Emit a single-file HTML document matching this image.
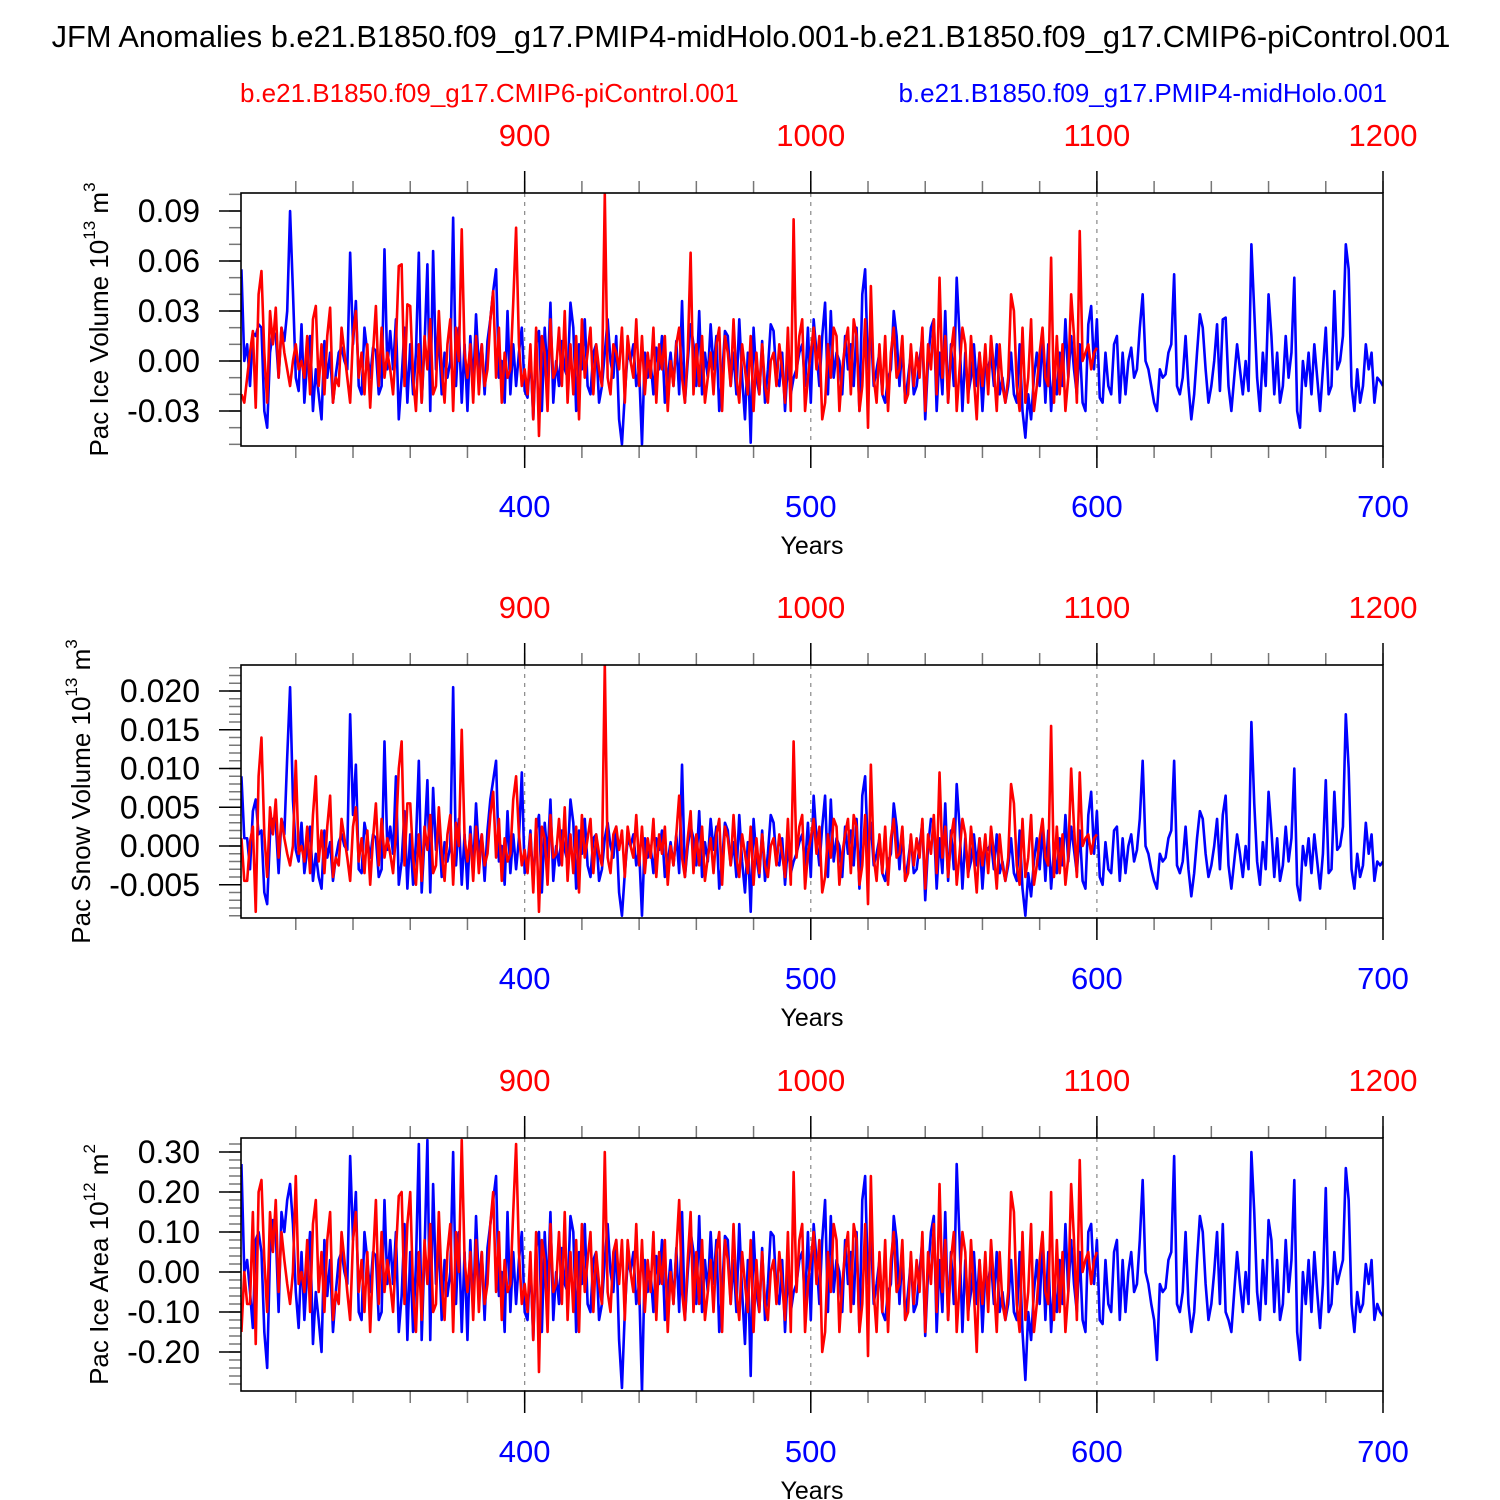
<!DOCTYPE html>
<html><head><meta charset="utf-8"><style>
html,body{margin:0;padding:0;background:#fff;}
svg{display:block;font-family:"Liberation Sans",Arial,sans-serif;}
</style></head><body>
<svg id="chart" width="1500" height="1500" viewBox="0 0 1500 1500">
<text x="751" y="47" text-anchor="middle" font-size="30.8">JFM Anomalies b.e21.B1850.f09_g17.PMIP4-midHolo.001-b.e21.B1850.f09_g17.CMIP6-piControl.001</text>
<text x="240" y="102" font-size="26" fill="#ff0000">b.e21.B1850.f09_g17.CMIP6-piControl.001</text>
<text x="1387" y="102" font-size="26" fill="#0000ff" text-anchor="end">b.e21.B1850.f09_g17.PMIP4-midHolo.001</text>
</svg>
<script>
// Blue: years 301..700 ; Red: years 801..1100 (plotted on blue axis at year-500)
const blueYears0 = 301;
const redYears0 = 801;
const redOffset = 500;
const bottomTicks = [400,500,600,700];
const topTicks = [900,1000,1100,1200];
const unit1 = 0.001, unit2 = 0.0001, unit3 = 0.01;
const yTicks1 = [0.09,0.06,0.03,0.00,-0.03];
const yLabels1 = ["0.09","0.06","0.03","0.00","-0.03"];
const yTicks2 = [0.020,0.015,0.010,0.005,0.000,-0.005];
const yLabels2 = ["0.020","0.015","0.010","0.005","0.000","-0.005"];
const yTicks3 = [0.30,0.20,0.10,0.00,-0.10,-0.20];
const yLabels3 = ["0.30","0.20","0.10","0.00","-0.10","-0.20"];

const blue1 = [55,0,10,-15,17,15,22,20,-30,-40,5,18,15,-10,20,12,30,90,42,-10,
-18,22,-25,0,15,-30,-5,-20,-35,12,-10,5,-25,-8,5,8,0,-5,65,10,
36,-15,-20,20,5,-10,8,6,-20,-15,67,-5,18,-5,25,-35,-10,20,-25,10,
-20,5,65,-25,10,58,-30,66,-5,15,-20,5,-10,0,86,-15,20,-25,10,-30,
15,-15,28,-5,10,-20,12,25,42,55,-10,0,-25,30,-20,10,-15,5,20,-18,
-22,5,-35,10,18,-30,20,-10,35,-25,0,-15,12,-5,-10,35,20,-30,10,-5,
25,-15,-20,5,10,-25,-15,5,25,0,-10,15,-35,-50,-20,5,0,10,-15,-5,
-50,5,-10,0,-20,8,-5,15,-25,-10,5,-15,12,-20,36,-25,0,22,10,-15,
30,-20,5,-10,22,-5,15,-30,-10,18,15,-15,5,-20,25,-10,-35,5,-49,20,
-10,-20,12,-25,-5,22,18,-10,-15,5,-30,0,-20,-10,-5,5,10,-15,20,-25,
25,5,-15,15,35,-20,30,-10,5,0,-20,15,-5,10,-15,20,-30,40,55,-5,
20,-15,-5,5,-20,-25,-10,-5,30,15,-15,10,-25,-10,5,-20,-15,0,15,-35,
0,20,25,-30,5,-20,30,-25,10,-15,50,15,-30,5,-20,-10,10,-15,5,-30,
0,-5,5,-15,10,-20,-10,-25,-15,5,-20,-25,10,-30,-46,-20,-35,-10,5,-15,
15,-25,10,-30,-5,-20,5,-15,25,-10,15,-5,-20,10,-25,-30,22,33,-5,25,
-22,-25,5,-15,-20,10,15,-25,5,-20,0,8,-10,-5,20,40,0,-5,-15,-25,
-30,-5,-10,-8,5,10,52,-15,-20,-10,15,-15,-35,-20,5,28,20,-5,-25,-15,
0,22,-18,25,26,-15,-30,-10,10,-5,-20,0,-18,70,30,-10,-30,5,-15,40,
15,-20,5,-25,-15,15,-10,5,50,-30,-40,0,-15,5,-20,10,-10,-30,-5,20,
-20,-15,42,-5,0,15,70,55,-15,-30,-5,-25,-15,10,-5,5,-25,-10,-12,-15];

const red1 = [-20,-25,-10,5,18,-28,40,54,5,-25,30,10,32,-10,20,5,-5,-15,0,10,
-5,0,-10,15,-20,25,33,-15,10,-20,15,32,-25,-10,-15,20,5,-10,-25,15,
30,-10,5,-20,10,-28,5,33,-15,20,-10,5,-5,-20,10,57,58,-15,34,33,
-10,-30,10,-25,15,-5,25,-20,-15,30,-5,-25,10,25,-30,20,0,79,5,-10,
10,-25,15,-20,10,-15,-5,25,42,-10,20,-25,5,-10,-5,35,80,10,-15,-5,
-20,10,-35,20,-45,15,5,-30,25,-10,-5,20,-15,30,-25,10,-20,15,-35,25,
-10,5,20,-20,10,-5,-15,100,-10,-20,10,5,-5,20,-25,15,0,-10,25,-15,
15,-20,5,-10,20,-25,10,-5,15,-30,0,-15,10,20,-10,-25,5,65,-20,10,
-15,15,-25,-10,5,-20,10,20,-30,15,5,-15,25,-10,-25,10,-5,-20,15,-30,
5,-20,10,-15,-25,0,5,-15,10,-5,-25,20,-30,85,-10,15,25,-30,-10,5,
20,-5,15,-35,-25,10,-10,20,15,-30,-5,10,20,-20,25,15,-30,-15,25,-40,
45,-10,-25,10,-20,15,-30,5,20,-10,-5,15,-25,-20,10,-15,5,-10,20,-30,
10,-5,25,-20,50,-10,15,-25,5,20,-30,-5,20,10,-25,15,-10,-35,5,-15,
10,-20,15,-5,-30,10,-15,-25,-10,40,30,-15,-30,20,-25,-10,25,-30,-15,5,
20,-10,-15,62,-25,15,-20,10,-30,-10,40,15,-25,78,0,5,10,-5,5,8];

const blue2 = [90,10,10,-30,45,60,15,20,-60,-75,15,35,30,-35,35,15,115,205,60,-5,
-20,30,-35,-5,25,-45,-10,-40,-55,20,-15,5,-45,-15,5,15,0,-5,170,40,
105,-30,-35,30,10,-15,15,10,-40,-30,135,-5,25,-10,90,-50,-20,45,-55,15,
-50,5,110,-60,10,85,-60,75,-5,25,-40,5,-20,0,205,-25,35,-50,15,-55,
25,-30,55,-10,15,-45,20,60,85,110,-20,0,-50,45,-35,15,-30,10,95,-35,
-25,20,-50,20,40,-60,30,-15,60,-45,0,-25,20,-5,-20,60,30,-55,20,-10,
35,-25,-40,10,15,-45,-30,10,30,0,-15,25,-60,-90,-35,10,0,15,-25,-5,
-90,10,-15,0,-35,10,-5,20,-40,-20,5,-25,15,-35,105,-40,0,25,10,-25,
45,-40,5,-20,35,-5,25,-55,-20,30,20,-25,5,-40,40,-20,-60,5,-85,35,
-15,-40,20,-45,-10,40,30,-20,-25,10,-50,0,-35,-20,-10,5,15,-25,30,-40,
65,10,-25,25,65,-40,60,-20,10,0,-40,25,-10,20,-25,35,-55,65,90,-10,
30,-25,-10,10,-35,-45,-20,-10,55,25,-30,20,-45,-20,10,-35,-30,0,30,-70,
0,35,30,-55,10,-35,55,-45,20,-30,80,25,-55,10,-35,-20,15,-25,10,-55,
0,-5,5,-30,15,-35,-20,-45,-25,10,-35,-45,20,-55,-90,-35,-65,-20,10,-30,
25,-45,20,-55,-5,-35,10,-25,40,-20,25,-5,-35,20,-45,-55,40,70,-10,45,
-40,-50,5,-30,-35,20,25,-45,10,-35,0,15,-20,-5,35,110,0,-10,-30,-45,
-55,-10,-20,-15,10,20,110,-25,-35,-20,25,-30,-65,-35,10,45,35,-10,-40,-25,
0,35,-30,40,65,-25,-55,-20,15,-10,-40,0,-30,160,55,-20,-50,5,-30,70,
20,-40,10,-45,-25,25,-20,10,100,-50,-70,0,-25,10,-35,15,-20,-55,-10,85,
-35,-30,70,-5,0,25,170,100,-30,-55,-10,-40,-25,30,-10,15,-45,-20,-25,-20];

const red2 = [10,-45,-45,5,25,-85,90,140,15,-40,50,15,60,-15,35,10,-10,-25,0,110,
-10,0,-20,25,-35,40,90,-20,20,-35,25,65,-40,-15,-25,35,10,-15,-45,25,
50,-20,10,-35,20,-50,10,55,-25,35,-15,10,-10,-35,15,100,135,-25,55,55,
-15,-50,15,-45,25,-5,40,-35,-25,50,-10,-45,15,40,-50,30,0,150,10,-20,
15,-45,25,-35,15,-25,-10,40,70,-15,35,-45,10,-20,-10,60,90,15,-25,-5,
-35,15,-60,35,-85,25,10,-50,40,-15,-10,35,-25,50,-45,15,-35,25,-60,40,
-15,10,35,-35,15,-10,-25,235,-15,-35,15,25,-5,20,-40,25,0,-15,40,-25,
25,-35,10,-15,35,-40,15,-10,25,-50,0,-25,15,65,-15,-40,10,45,-35,15,
-25,25,-45,-15,10,-35,15,35,-50,25,10,-25,40,-15,-40,15,-10,-35,25,-50,
10,-35,15,-25,-40,0,10,-25,15,-10,-40,35,-50,135,-15,25,40,-55,-10,10,
35,-10,25,-60,-40,15,-15,35,25,-50,-10,15,35,-35,40,25,-50,-25,40,-75,
105,-15,-45,15,-35,25,-50,10,35,-15,-10,25,-45,-35,15,-25,10,-15,35,-55,
15,-10,40,-35,95,-15,25,-40,10,35,-50,-10,35,15,-40,25,-15,-60,10,-25,
15,-35,25,-10,-55,15,-25,-45,-15,80,55,-25,-50,35,-40,-15,40,-50,-25,10,
35,-15,-25,155,-40,25,-35,15,-50,-15,100,25,-40,95,0,10,15,-10,10,15];

const blue3 = [27,0,3,-5,-14,8,10,5,-15,-24,5,13,10,-10,15,10,18,22,12,-5,
-14,5,-12,0,10,-18,-5,-12,-20,8,-6,3,-15,-5,3,5,0,-3,29,8,
20,-10,-12,10,3,-5,5,4,-12,-10,18,-3,8,-3,10,-15,-6,12,-17,5,
-15,2,32,-17,5,33,-17,22,-3,8,-12,3,-6,0,30,-8,10,-15,5,-17,
8,-10,14,-3,5,-12,6,12,18,24,-6,0,-15,15,-10,5,-8,3,10,-10,
-12,3,-17,6,10,-15,10,-5,15,-12,0,-8,6,-3,-5,14,10,-15,5,-3,
12,-8,-10,3,5,-12,-8,3,12,0,-5,8,-17,-29,-10,3,0,5,-8,-3,
-30,3,-5,0,-10,4,-3,8,-12,-5,3,-8,6,-10,15,-12,0,10,5,-8,
14,-10,3,-5,10,-3,8,-15,-5,9,8,-8,3,-10,12,-5,-18,3,-26,10,
-5,-10,6,-12,-3,10,9,-5,-8,3,-15,0,-10,-5,-3,3,5,-8,10,-12,
12,3,-8,8,18,-10,14,-5,3,0,-10,8,-3,5,-8,10,-15,18,24,-3,
10,-8,-3,3,-10,-12,-5,-3,14,8,-8,5,-12,-5,3,-10,-8,0,8,-16,
0,10,14,-15,3,-10,15,-12,5,-8,27,8,-15,3,-10,-5,5,-8,3,-15,
0,-3,3,-8,5,-10,-5,-12,-8,3,-10,-12,5,-15,-27,-10,-17,-5,3,-8,
8,-12,5,-15,-3,-10,3,-8,12,-5,8,-3,-10,5,-12,-15,10,12,-3,8,
-12,-13,3,-8,-10,5,8,-12,3,-10,0,5,-5,-3,8,23,0,-3,-8,-12,
-22,-3,-5,-4,3,5,29,-8,-10,-5,10,-8,-15,-10,3,14,10,-3,-12,-8,
0,10,-8,12,-10,-12,-15,-5,5,-3,-10,0,-8,30,15,-5,-12,3,-8,13,
8,-10,3,-12,-8,8,-5,3,23,-15,-22,0,-8,3,-10,5,-5,-14,-3,21,
-10,-8,5,-3,0,3,26,18,-8,-15,-5,-10,-8,2,-3,3,-12,-8,-10,-11];

const red3 = [-15,0,-8,-8,15,-18,20,23,3,-10,15,5,18,-5,10,3,-3,-8,0,24,
-3,0,-5,8,-10,12,18,-5,5,-10,8,15,-12,-5,-8,10,3,-5,-12,8,
15,-5,3,-10,5,-15,3,18,-8,10,-5,3,-3,-10,5,19,20,-8,12,20,
-5,-15,5,-12,8,-3,12,-10,-8,15,-3,-12,5,12,-15,10,0,33,3,-5,
5,-12,8,-10,5,-8,-3,12,20,-5,10,-12,3,-5,-3,15,32,5,-8,-3,
-10,5,-17,10,-25,8,3,-15,12,-5,-3,10,-8,15,-12,5,-10,8,-15,12,
-5,3,10,-10,5,-3,-8,30,-5,-10,5,8,-3,8,-12,8,0,-5,12,-8,
8,-10,3,-5,10,-12,5,-3,8,-15,0,-8,5,18,-5,-12,3,15,-10,5,
-8,8,-12,-5,3,-10,5,10,-15,8,3,-8,12,-5,-12,5,-3,-10,8,-15,
3,-10,5,-8,-12,0,3,-8,5,-3,-12,10,-15,25,-5,8,12,-15,-3,3,
10,-3,8,-20,-15,5,-5,12,8,-15,-3,5,10,-10,12,8,-15,-8,12,-21,
24,-5,-15,5,-10,8,-15,3,10,-5,-3,8,-12,-10,5,-8,3,-5,10,-15,
5,-3,12,-10,22,-5,8,-12,3,10,-15,-3,10,5,-12,8,-5,-20,3,-8,
5,-10,8,-3,-15,5,-8,-12,-5,20,15,-8,-15,10,-12,-5,12,-15,-8,3,
10,-5,-8,20,-12,8,-10,5,-15,-5,22,8,-12,28,0,3,5,-3,3,5];

const NS = "http://www.w3.org/2000/svg";
const svg = document.getElementById("chart");
function mk(tag, attrs, parent){ const e=document.createElementNS(NS,tag); for(const k in attrs) e.setAttribute(k,attrs[k]); (parent||svg).appendChild(e); return e; }

const X0=241, X1=1383, YR0=300.85, YR1=700;
function xScale(yr){ return X0 + (yr-YR0)/(YR1-YR0)*(X1-X0); }

const sup = (s)=>'<tspan font-size="17" dy="-13">'+s+'</tspan>';
const panels = [
 {top:193, bot:446, yRef:[0.09,211],yRef2:[0,361], ticks:yTicks1, labels:yLabels1, minor:0.01, blue:blue1, red:red1, unit:unit1,
  title:'Pac Ice Volume 10'+sup('13')+'<tspan dy="13"> m</tspan>'+sup('3'), tx:108, name:'ice-volume'},
 {top:665, bot:918, yRef:[0.020,691],yRef2:[0,846], ticks:yTicks2, labels:yLabels2, minor:0.001, blue:blue2, red:red2, unit:unit2,
  title:'Pac Snow Volume 10'+sup('13')+'<tspan dy="13"> m</tspan>'+sup('3'), tx:90, name:'snow-volume'},
 {top:1138, bot:1391, yRef:[0.30,1152],yRef2:[0,1272], ticks:yTicks3, labels:yLabels3, minor:0.02, blue:blue3, red:red3, unit:unit3,
  title:'Pac Ice Area 10'+sup('12')+'<tspan dy="13"> m</tspan>'+sup('2'), tx:108, name:'ice-area'}
];

panels.forEach((p,pi)=>{
  const g = mk("g",{});
  
  
  const slope = (p.yRef2[1]-p.yRef[1])/(p.yRef2[0]-p.yRef[0]);
  const yS = v => p.yRef2[1] + (v-p.yRef2[0])*slope;
  const vMax = p.yRef2[0] + (p.top-p.yRef2[1])/slope;
  const vMin = p.yRef2[0] + (p.bot-p.yRef2[1])/slope;
  const cp = mk("clipPath",{id:"clip"+pi},g);
  mk("rect",{x:X0,y:p.top,width:X1-X0,height:p.bot-p.top},cp);
  bottomTicks.slice(0,3).forEach(t=>{
    const l=mk("line",{x1:xScale(t),x2:xScale(t),y1:p.top,y2:p.bot,stroke:"#888","stroke-width":1.2,"stroke-dasharray":"4,5"},g);
    
    
  });
  const start = Math.ceil(vMin/p.minor - 1e-6);
  for(let k=start; k*p.minor<=vMax+1e-9; k++){
    const y=yS(k*p.minor);
    mk("line",{x1:X0-12,x2:X0,y1:y,y2:y,stroke:"#777","stroke-width":1.5},g);
  }
  p.ticks.forEach((t,i)=>{
    const y=yS(t);
    mk("line",{x1:X0-22,x2:X0,y1:y,y2:y,stroke:"#000","stroke-width":1.5},g);
    const tx=mk("text",{x:200,y:y+11,"text-anchor":"end","font-size":32},g);
    tx.textContent=p.labels[i];
    
    
  });
  for(let yr=320; yr<=700; yr+=20){
    const x=xScale(yr);
    mk("line",{x1:x,x2:x,y1:p.top-12,y2:p.top,stroke:"#777","stroke-width":1.5},g);
    mk("line",{x1:x,x2:x,y1:p.bot,y2:p.bot+12,stroke:"#777","stroke-width":1.5},g);
  }
  bottomTicks.forEach(t=>{
    const x=xScale(t);
    mk("line",{x1:x,x2:x,y1:p.bot,y2:p.bot+22,stroke:"#000","stroke-width":1.5},g);
    const tx=mk("text",{x:x,y:p.bot+71,"text-anchor":"middle","font-size":31,fill:"#0000ff"},g);
    tx.textContent=String(t);
    
    
  });
  topTicks.forEach(t=>{
    const x=xScale(t-redOffset);
    mk("line",{x1:x,x2:x,y1:p.top-22,y2:p.top,stroke:"#000","stroke-width":1.5},g);
    const tx=mk("text",{x:x,y:p.top-47,"text-anchor":"middle","font-size":31,fill:"#ff0000"},g);
    tx.textContent=String(t);
    
    
  });
  const xt=mk("text",{x:812,y:p.bot+108,"text-anchor":"middle","font-size":25},g);
  xt.textContent="Years";
  
  
  const yt=mk("text",{transform:`translate(${p.tx},${(p.top+p.bot)/2}) rotate(-90)`,"text-anchor":"middle","font-size":26},g);
  yt.innerHTML=p.title;
  
  
  const mkPath=(arr,y0,col,nm)=>{
    const d=arr.map((v,i)=>(i?"L":"M")+xScale(y0+i).toFixed(2)+","+yS(v*p.unit).toFixed(2)).join("");
    const pa=mk("path",{d:d,fill:"none",stroke:col,"stroke-width":2.6,"stroke-linejoin":"round","clip-path":`url(#clip${pi})`},g);
    
    
  };
  mkPath(p.blue,blueYears0,"#0000ff",'midholo-line');
  mkPath(p.red,redYears0-redOffset,"#ff0000",'picontrol-line');
  const fr=mk("rect",{x:X0,y:p.top,width:X1-X0,height:p.bot-p.top,fill:"none",stroke:"#000","stroke-width":1.6},g);
  
  
});
</script>
</body></html>
